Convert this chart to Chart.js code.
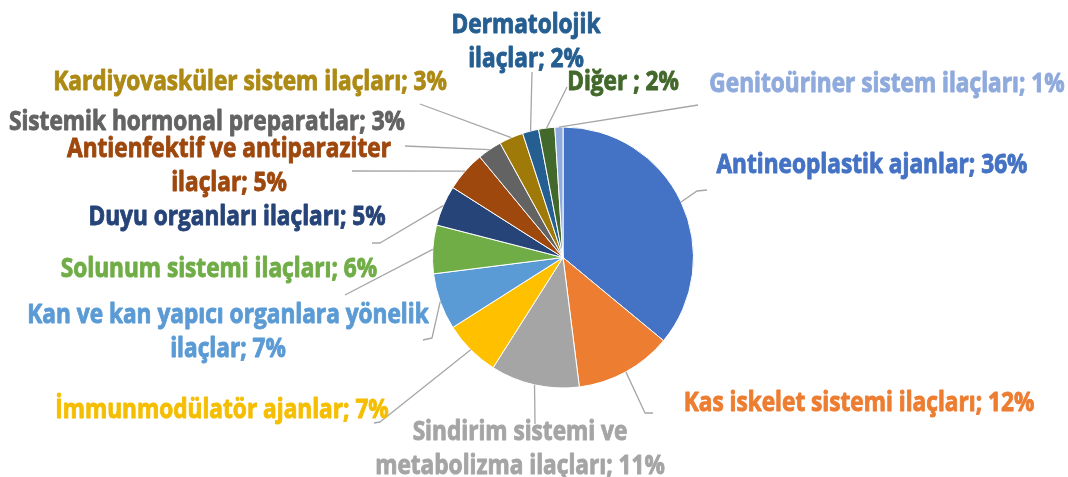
<!DOCTYPE html>
<html><head><meta charset="utf-8">
<script src="https://cdn.jsdelivr.net/npm/chart.js@4/dist/chart.umd.min.js"></script>
<style>html,body{margin:0;padding:0;background:#fff}#wrap{width:1068px;height:477px;position:relative}</style>
</head><body><div id="wrap"><canvas id="c" width="1068" height="477"></canvas></div>
<script>
const categories = ["Antineoplastik ajanlar", "Kas iskelet sistemi ilaçları", "Sindirim sistemi ve metabolizma ilaçları", "İmmunmodülatör ajanlar", "Kan ve kan yapıcı organlara yönelik ilaçlar", "Solunum sistemi ilaçları", "Duyu organları ilaçları", "Antienfektif ve antiparaziter ilaçlar", "Sistemik hormonal preparatlar", "Kardiyovasküler sistem ilaçları", "Dermatolojik ilaçlar", "Diğer ", "Genitoüriner sistem ilaçları"];
const shares = [36, 12, 11, 7, 7, 6, 5, 5, 3, 3, 2, 2, 1];
const sliceColors = ["#4472C4", "#ED7D31", "#A5A5A5", "#FFC000", "#5B9BD5", "#70AD47", "#264478", "#9E480E", "#636363", "#A07A08", "#255E91", "#43682B", "#8FAADC"];
const labelColors = ["#4472C4", "#ED7D31", "#A5A5A5", "#F5BE00", "#5B9BD5", "#70AD47", "#264478", "#9E480E", "#636363", "#AD8A14", "#255E91", "#43682B", "#8FAADC"];
// layout (not data): words on first line (0 = single line), label centre x / first baseline, leader end, optional tick end
const wrapWords = [0, 0, 3, 0, 6, 0, 0, 3, 0, 0, 1, 0, 0];
const labelPos = [[872,173],[859,411],[520,440],[222,418],[228,323],[219,277],[237,225],[229,157],[207,130],[250,90],[526,33],[623,90],[887,92]];
const leaderEnd = [[697,191],[645,413],[535,424],[380,422],[432,338],[345,295],[380,243],[352,171],[405,146],[420,104],[532,72],[567,87],[698,105]];
const leaderTick = [[707,190],[653,413],null,[374,423],[423,340],null,[372,243],null,null,null,null,null,null];
const LINE_GAP = 34;
const FONT = "bold 26px 'Open Sans'";

const labelPlugin = {
  id: 'outLabels',
  afterDatasetsDraw(chart) {
    const ctx = chart.ctx;
    const meta = chart.getDatasetMeta(0);
    ctx.save();
    ctx.font = FONT;
    const sx = 311 / ctx.measureText("Antineoplastik ajanlar; 36%").width;
    meta.data.forEach((arc, i) => {
      const p = arc.getProps(['x','y','startAngle','endAngle','outerRadius'], true);
      const mid = (p.startAngle + p.endAngle) / 2;
      const ax = p.x + Math.cos(mid) * p.outerRadius;
      const ay = p.y + Math.sin(mid) * p.outerRadius;
      ctx.beginPath();
      ctx.strokeStyle = '#A6A6A6';
      ctx.lineWidth = 1.3;
      ctx.moveTo(ax, ay);
      ctx.lineTo(leaderEnd[i][0], leaderEnd[i][1]);
      if (leaderTick[i]) ctx.lineTo(leaderTick[i][0], leaderTick[i][1]);
      ctx.stroke();
      const text = categories[i] + '; ' + shares[i] + '%';
      const words = text.split(' ');
      const lines = wrapWords[i] ? [words.slice(0, wrapWords[i]).join(' '), words.slice(wrapWords[i]).join(' ')] : [text];
      ctx.fillStyle = labelColors[i];
      ctx.strokeStyle = labelColors[i];
      ctx.lineWidth = 0.9;
      ctx.lineJoin = 'round';
      ctx.textAlign = 'center';
      ctx.textBaseline = 'alphabetic';
      lines.forEach((ln, k) => {
        ctx.save();
        ctx.translate(labelPos[i][0], labelPos[i][1] + k * LINE_GAP);
        ctx.scale(sx, 1);
        ctx.fillText(ln, 0, 0);
        ctx.strokeText(ln, 0, 0);
        ctx.restore();
      });
    });
    ctx.restore();
  }
};

new Chart(document.getElementById('c'), {
  type: 'pie',
  data: {
    labels: categories,
    datasets: [{ data: shares, backgroundColor: sliceColors, borderColor: '#ffffff', borderWidth: 1 }]
  },
  options: {
    responsive: false,
    animation: false,
    devicePixelRatio: 1,
    layout: { padding: { left: 432, right: 374, top: 126, bottom: 88 } },
    plugins: { legend: { display: false }, tooltip: { enabled: false } }
  },
  plugins: [labelPlugin]
});
</script>
</body></html>
